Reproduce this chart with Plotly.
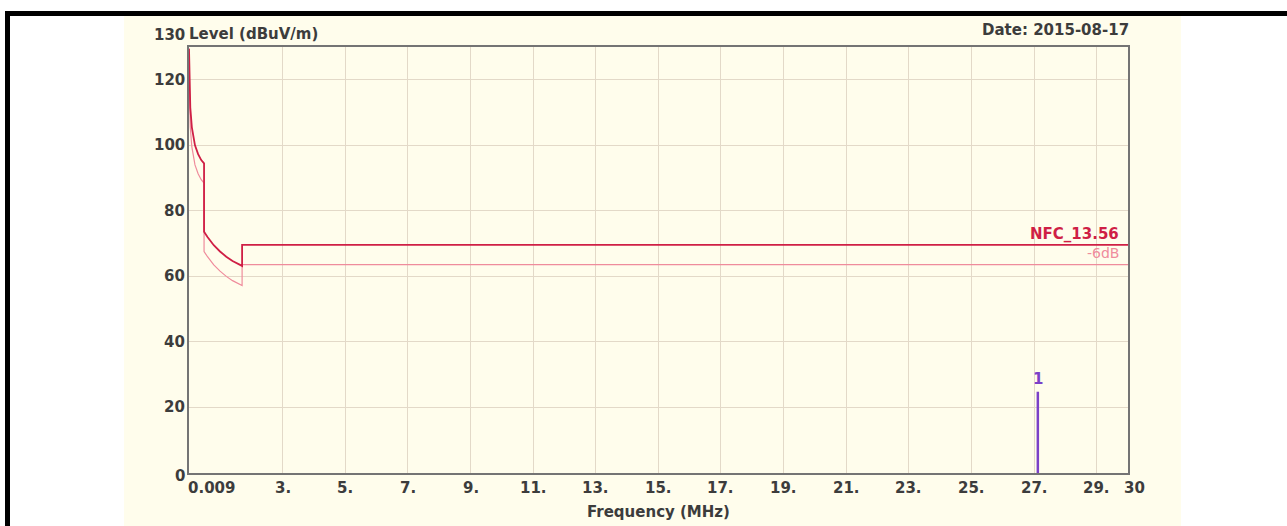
import plotly.graph_objects as go

# Limit line (NFC_13.56) and the -6 dB margin line, frequency in MHz
freq_mhz = [0.009, 0.02, 0.05, 0.1, 0.2, 0.3, 0.4, 0.49, 0.49, 0.6, 0.8, 1.0,
            1.2, 1.4, 1.705, 1.705, 30.0]
limit_level = [129.5, 120.5, 111.5, 105.5, 100.0, 97.3, 95.5, 94.5, 73.6, 72.0,
               69.5, 67.6, 66.0, 64.7, 63.2, 69.6, 69.6]
margin_level = [123.5, 114.5, 105.5, 99.5, 94.0, 91.3, 89.5, 88.5, 67.6, 66.0,
                63.5, 61.6, 60.0, 58.7, 57.2, 63.6, 63.6]

# Marker 1 (peak found at 27.12 MHz)
marker_freq = [27.12]
marker_level = [24.8]
marker_names = ["1"]

# Axis ticks
x_tick_vals = [0.009, 3, 5, 7, 9, 11, 13, 15, 17, 19, 21, 23, 25, 27, 29, 30]
x_tick_text = ["0.009", "3.", "5.", "7.", "9.", "11.", "13.", "15.", "17.", "19.",
               "21.", "23.", "25.", "27.", "29.", "30"]
y_tick_vals = [0, 20, 40, 60, 80, 100, 120, 130]
y_tick_text = ["0", "20", "40", "60", "80", "100", "120", "130"]

X_RANGE = [0.009, 30]
Y_RANGE = [0, 130]

# Figure geometry (pixels)
FIG_W, FIG_H = 1287, 526
PL, PR, PT, PB = 189, 1128, 47, 473
PW, PH = PR - PL, PB - PT


def px_x(px):
    return (px - PL) / PW


def px_y(py):
    return (PB - py) / PH


CREAM = "#fffdec"
GRID = "#e3d9c8"
FRAME = "#747474"
TEXT = "#3c3c3c"
RED = "#cf1f45"
PINK = "#ef8c9c"
PURPLE = "#7b40c8"
FONT = "DejaVu Sans"

fig = go.Figure()

fig.add_trace(go.Scatter(x=freq_mhz, y=margin_level, mode="lines",
                         line=dict(color=PINK, width=1.2), hoverinfo="skip",
                         showlegend=False))
fig.add_trace(go.Scatter(x=freq_mhz, y=limit_level, mode="lines",
                         line=dict(color=RED, width=1.8), hoverinfo="skip",
                         showlegend=False))

for f, lv in zip(marker_freq, marker_level):
    fig.add_trace(go.Scatter(x=[f, f], y=[0, lv], mode="lines",
                             line=dict(color=PURPLE, width=2.5),
                             hoverinfo="skip", showlegend=False))

annotations = []

# x tick labels
for v, t in zip(x_tick_vals, x_tick_text):
    a = dict(x=v, xref="x", y=px_y(488), yref="paper", text=f"<b>{t}</b>",
             showarrow=False, font=dict(family=FONT, size=15, color=TEXT),
             xanchor="center", yanchor="middle")
    if v == x_tick_vals[0]:
        a["xanchor"] = "left"
        a["xshift"] = -3
    elif v == x_tick_vals[-1]:
        a["xanchor"] = "left"
        a["xshift"] = -6
    annotations.append(a)

# y tick labels
for v, t in zip(y_tick_vals, y_tick_text):
    a = dict(x=0, xref="paper", y=v, yref="y", text=f"<b>{t}</b>",
             showarrow=False, font=dict(family=FONT, size=15, color=TEXT),
             xanchor="right", yanchor="middle", xshift=-2)
    if v == Y_RANGE[1]:
        a["yshift"] = 12
    elif v == Y_RANGE[0]:
        a["yshift"] = -3
    annotations.append(a)

# titles
annotations += [
    dict(x=px_x(187), xref="paper", y=px_y(34), yref="paper",
         text="<b>Level (dBuV/m)</b>", showarrow=False,
         font=dict(family=FONT, size=15, color=TEXT),
         xanchor="left", yanchor="middle"),
    dict(x=px_x(1131), xref="paper", y=px_y(30), yref="paper",
         text="<b>Date: 2015-08-17</b>", showarrow=False,
         font=dict(family=FONT, size=15, color=TEXT),
         xanchor="right", yanchor="middle"),
    dict(x=0.5, xref="paper", y=px_y(512), yref="paper",
         text="<b>Frequency (MHz)</b>", showarrow=False,
         font=dict(family=FONT, size=15, color=TEXT),
         xanchor="center", yanchor="middle"),
    dict(x=px_x(1121), xref="paper", y=px_y(233.5), yref="paper",
         text="<b>NFC_13.56</b>", showarrow=False,
         font=dict(family=FONT, size=15, color=RED),
         xanchor="right", yanchor="middle"),
    dict(x=px_x(1121), xref="paper", y=px_y(253.5), yref="paper",
         text="-6dB", showarrow=False,
         font=dict(family=FONT, size=14, color=PINK),
         xanchor="right", yanchor="middle"),
]

for f, lv, name in zip(marker_freq, marker_level, marker_names):
    annotations.append(dict(x=f, xref="x", y=lv, yref="y", text=f"<b>{name}</b>",
                            showarrow=False, yanchor="bottom", yshift=2,
                            font=dict(family=FONT, size=15, color=PURPLE)))

shapes = [
    # cream panel behind the chart
    dict(type="rect", xref="paper", yref="paper", layer="below",
         x0=px_x(124), x1=px_x(1181), y0=px_y(FIG_H), y1=px_y(16),
         fillcolor=CREAM, line=dict(width=0)),
    # black frame: top and left edges
    dict(type="rect", xref="paper", yref="paper",
         x0=px_x(5), x1=px_x(FIG_W), y0=px_y(16), y1=px_y(11),
         fillcolor="black", line=dict(width=0)),
    dict(type="rect", xref="paper", yref="paper",
         x0=px_x(5), x1=px_x(10), y0=px_y(FIG_H), y1=px_y(11),
         fillcolor="black", line=dict(width=0)),
]

fig.update_layout(
    width=FIG_W, height=FIG_H,
    margin=dict(l=PL, r=FIG_W - PR, t=PT, b=FIG_H - PB),
    paper_bgcolor="white", plot_bgcolor=CREAM,
    annotations=annotations, shapes=shapes,
    showlegend=False,
)
fig.update_xaxes(range=X_RANGE, tickvals=x_tick_vals[1:-1], showticklabels=False,
                 showgrid=True, gridcolor=GRID, gridwidth=1,
                 showline=True, linecolor=FRAME, linewidth=2, mirror=True,
                 ticks="", zeroline=False, fixedrange=True)
fig.update_yaxes(range=Y_RANGE, tickvals=y_tick_vals[1:-1], showticklabels=False,
                 showgrid=True, gridcolor=GRID, gridwidth=1,
                 showline=True, linecolor=FRAME, linewidth=2, mirror=True,
                 ticks="", zeroline=False, fixedrange=True)

fig.write_html("out.html", config={"displayModeBar": False})
